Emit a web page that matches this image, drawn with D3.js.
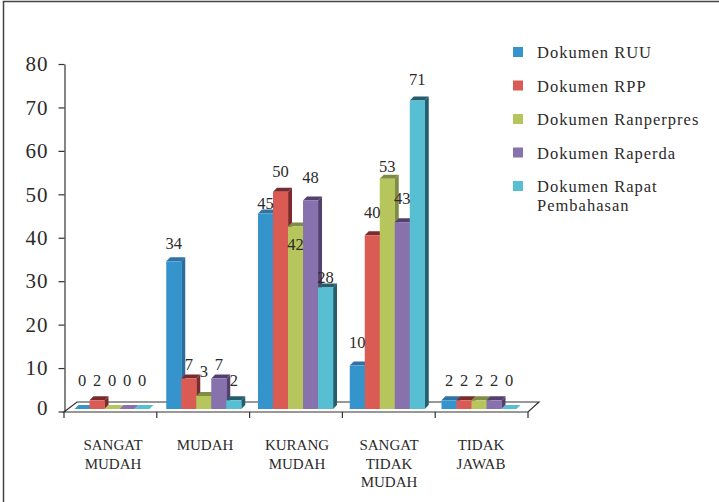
<!DOCTYPE html>
<html>
<head>
<meta charset="utf-8">
<script src="https://cdnjs.cloudflare.com/ajax/libs/d3/7.8.5/d3.min.js"></script>
<style>
  html, body { margin: 0; padding: 0; background: #fff; }
  svg { display: block; }
  text { font-family: "Liberation Serif", "DejaVu Serif", serif; fill: #2b2b2b; }
</style>
</head>
<body>
<svg id="chart" width="719" height="502"></svg>
<script>
// Survey responses per document type, grouped by answer category.
const categories = [["SANGAT", "MUDAH"], ["MUDAH"], ["KURANG", "MUDAH"], ["SANGAT", "TIDAK", "MUDAH"], ["TIDAK", "JAWAB"]];
const seriesNames = [["Dokumen RUU"], ["Dokumen RPP"], ["Dokumen Ranperpres"], ["Dokumen Raperda"], ["Dokumen Rapat", "Pembahasan"]];
const dokumenRUU = [0, 34, 45, 10, 2];
const dokumenRPP = [2, 7, 50, 40, 2];
const dokumenRanperpres = [0, 3, 42, 53, 2];
const dokumenRaperda = [0, 7, 48, 43, 2];
const dokumenRapat = [0, 2, 28, 71, 0];
const yTicks = [0, 10, 20, 30, 40, 50, 60, 70, 80];

// Vertical nudge of each value label from the top of its bar, one row per series.
const labelNudge = [
  [-29, -18, -10, -23, -20],
  [-20, -14, -21, -23, -20],
  [-29, -25, 18, -13, -20],
  [-29, -14, -23, -24, -20],
  [-29, -20, -10, -21, -29]
];

const front = ["#3594CC", "#DA5A54", "#B7C65C", "#8872AE", "#58BFD3"];
const top_ = ["#2F72A5", "#7A2B2E", "#7F8C45", "#54406F", "#255D6C"];
const side = ["#2C6E9B", "#7A2B2E", "#7F8C45", "#54406F", "#255D6C"];
const seriesValues = [dokumenRUU, dokumenRPP, dokumenRanperpres, dokumenRaperda, dokumenRapat];

const svg = d3.select("#chart");
const ink = "#333";

// Frame: only the top and left rules are drawn
svg.append("path").attr("d", "M3.5,502V1.5H719")
  .attr("fill", "none").attr("stroke", "#444").attr("stroke-width", 1.5);

const catIdx = d3.range(categories.length);
const serIdx = d3.range(seriesNames.length);

// Value axis, and a matching scale for the bars that sit slightly forward on the floor
const y = d3.scaleLinear().domain([0, 80]).range([411.5, 64]);
const yBar = y.copy().range([409, 61.5]);

const axisG = svg.append("g").attr("transform", "translate(64.5,0)")
  .call(d3.axisLeft(y).tickValues(yTicks).tickSize(6).tickPadding(10).tickSizeOuter(0));
axisG.selectAll("path, line").attr("stroke", ink).attr("stroke-width", 1.2);
axisG.selectAll("text").attr("font-size", 21).attr("letter-spacing", 1).attr("fill", "#2b2b2b")
  .attr("dy", d => d === 0 ? "0.14em" : "0.32em");

// Floor of the 3-D plot
const floorX = d3.scalePoint().domain(d3.range(categories.length + 1)).range([64, 528]);
const floorFront = 412, floorBack = 402, skew = 11;
svg.append("path")
  .attr("d", d3.line()([[floorX(0), floorFront], [floorX(5), floorFront], [floorX(5) + skew, floorBack], [floorX(0) + skew + 2, floorBack]]) + "Z")
  .attr("fill", "#fff").attr("stroke", ink).attr("stroke-width", 1.2);
svg.append("g").selectAll("line").data(d3.range(categories.length + 1)).join("line")
  .attr("x1", d => floorX(d)).attr("x2", d => floorX(d))
  .attr("y1", floorFront).attr("y2", floorFront + 6)
  .attr("stroke", ink).attr("stroke-width", 1.2);

// Bar groups
const x0 = d3.scaleBand().domain(catIdx).range([74.5, 74.5 + 5 * 75 + 4 * 16.75]).paddingInner(16.75 / 91.75);
const x1 = d3.scaleBand().domain(serIdx).range([0, x0.bandwidth()]);
const depth = 4;
const flat = 5;

const cells = [];
catIdx.forEach(c => serIdx.forEach(s => cells.push({ c, s, v: seriesValues[s][c] })));

const bars = svg.append("g").selectAll("g").data(cells).join("g")
  .attr("transform", d => `translate(${x0(d.c) + x1(d.s)},0)`);
const w = x1.bandwidth();

// Top face
bars.append("path").attr("fill", d => d.v === 0 ? front[d.s] : top_[d.s])
  .attr("d", d => {
    const t = yBar(d.v);
    const h = d.v === 0 ? flat - 1 : depth;
    return d3.line()([[0, t], [w, t], [w + h, t - h], [h, t - h]]) + "Z";
  });
// Side face
bars.filter(d => d.v > 0).append("path").attr("fill", d => side[d.s])
  .attr("d", d => {
    const t = yBar(d.v), b = yBar(0);
    return d3.line()([[w, t], [w + depth, t - depth], [w + depth, b - depth], [w, b]]) + "Z";
  });
// Front face
bars.filter(d => d.v > 0).append("rect").attr("fill", d => front[d.s])
  .attr("x", 0).attr("width", w + 0.3)
  .attr("y", d => yBar(d.v)).attr("height", d => yBar(0) - yBar(d.v));

// Value labels
svg.append("g").selectAll("text").data(cells).join("text")
  .attr("x", d => x0(d.c) + x1(d.s) + w / 2)
  .attr("y", d => yBar(d.v) + labelNudge[d.s][d.c])
  .attr("dy", "0.35em").attr("text-anchor", "middle").attr("font-size", 16.5)
  .text(d => d.v);

// Category labels
const catCenter = d3.scalePoint().domain(catIdx).range([113, 481]);
const catG = svg.append("g").selectAll("text").data(categories).join("text")
  .attr("text-anchor", "middle").attr("font-size", 15)
  .attr("transform", (d, i) => `translate(${catCenter(i)},450)`);
catG.selectAll("tspan").data(d => d).join("tspan")
  .attr("x", 0).attr("y", (d, i) => i * 18.5).text(d => d);

// Legend
const legendY = d3.scalePoint().domain(serIdx).range([52, 186]);
const legend = svg.append("g").selectAll("g").data(seriesNames).join("g")
  .attr("transform", (d, i) => `translate(513,${legendY(i)})`);
legend.append("rect").attr("x", 0).attr("y", -5).attr("width", 10).attr("height", 10)
  .attr("fill", (d, i) => front[i]);
legend.append("text").attr("font-size", 16.5).attr("letter-spacing", 1)
  .selectAll("tspan").data(d => d).join("tspan")
  .attr("x", 24).attr("y", (d, i) => 6 + i * 18.5).text(d => d);
</script>
</body>
</html>
